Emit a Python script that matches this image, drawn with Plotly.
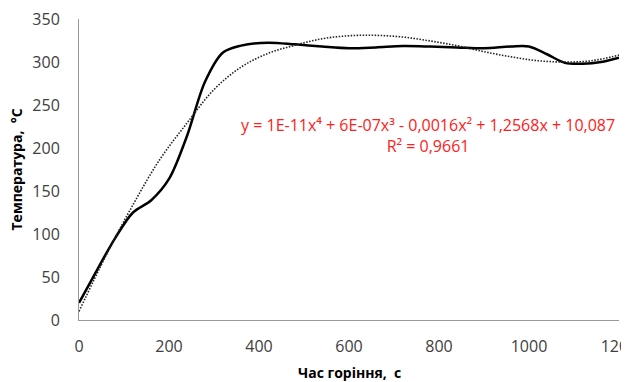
import plotly.graph_objects as go

# Measured temperature (solid line)
t_meas = [0, 40, 80, 120, 160, 200, 240, 280, 320, 360, 420, 480, 540, 600, 660, 720, 780, 840, 900, 960, 1000, 1040, 1080, 1120, 1160, 1200]
temp_meas = [20, 58, 95, 125, 139, 164, 214, 277, 311, 319, 322.5, 320.5, 318, 316, 317, 318.5, 318, 317, 316, 318, 318, 309, 299, 298, 300, 305]

# Polynomial trendline (dotted)
t_trend = [0, 60, 120, 180, 240, 300, 360, 420, 480, 540, 600, 660, 720, 780, 840, 900, 960, 1020, 1080, 1140, 1200]
temp_trend = [10, 75, 134, 187, 229, 268, 294, 310, 319.5, 327, 330.5, 331, 329, 324.5, 319, 312, 306, 301.5, 300, 301.5, 308]

x_ticks = [0, 200, 400, 600, 800, 1000, 1200]
y_ticks = [0, 50, 100, 150, 200, 250, 300, 350]

eq_text = "y = 1E-11x⁴ + 6E-07x³ - 0,0016x² + 1,2568x + 10,087<br>R² = 0,9661"
x_title = "<b>Час горіння,  с</b>"
y_title = "<b>Температура,  °C</b>"

fig = go.Figure()
fig.add_trace(go.Scatter(x=t_meas, y=temp_meas, mode="lines",
                         line=dict(color="black", width=2.5, shape="spline", smoothing=0.9),
                         showlegend=False))
fig.add_trace(go.Scatter(x=t_trend, y=temp_trend, mode="lines",
                         line=dict(color="#222222", width=1.6, dash="1.5px,1.5px", shape="spline"),
                         showlegend=False))

fig.add_annotation(x=776, y=215, xref="x", yref="y", text=eq_text, showarrow=False,
                   font=dict(family="Open Sans", size=16, color="#ff2020"), align="center")
fig.add_annotation(x=0.5, y=0, xref="paper", yref="paper", yshift=-52, text=x_title,
                   showarrow=False, font=dict(family="Open Sans", size=14, color="black"),
                   yanchor="middle")
fig.add_annotation(x=0, y=0.5, xref="paper", yref="paper", xshift=-63, text=y_title,
                   textangle=-90, showarrow=False,
                   font=dict(family="Open Sans", size=14, color="black"), xanchor="center")

fig.update_layout(
    width=621, height=374,
    margin=dict(l=71, r=10, t=11, b=62),
    paper_bgcolor="white", plot_bgcolor="white",
    font=dict(family="Open Sans", color="#404040"),
)
fig.update_xaxes(range=[0, 1200], tickvals=x_ticks, ticktext=[str(v) for v in x_ticks],
                 showgrid=False, zeroline=False, showline=True, linecolor="#999999", linewidth=1,
                 ticks="outside", ticklen=12, tickcolor="rgba(0,0,0,0)", automargin=False,
                 ticklabeloverflow="allow",
                 tickfont=dict(size=16, color="#404040"))
fig.update_yaxes(range=[0, 350], tickvals=y_ticks,
                 showgrid=False, zeroline=False, showline=True, linecolor="#999999", linewidth=1,
                 ticks="outside", ticklen=15, tickcolor="rgba(0,0,0,0)", automargin=False,
                 ticklabeloverflow="allow",
                 tickfont=dict(size=16, color="#404040"))

fig.write_html("out.html")
